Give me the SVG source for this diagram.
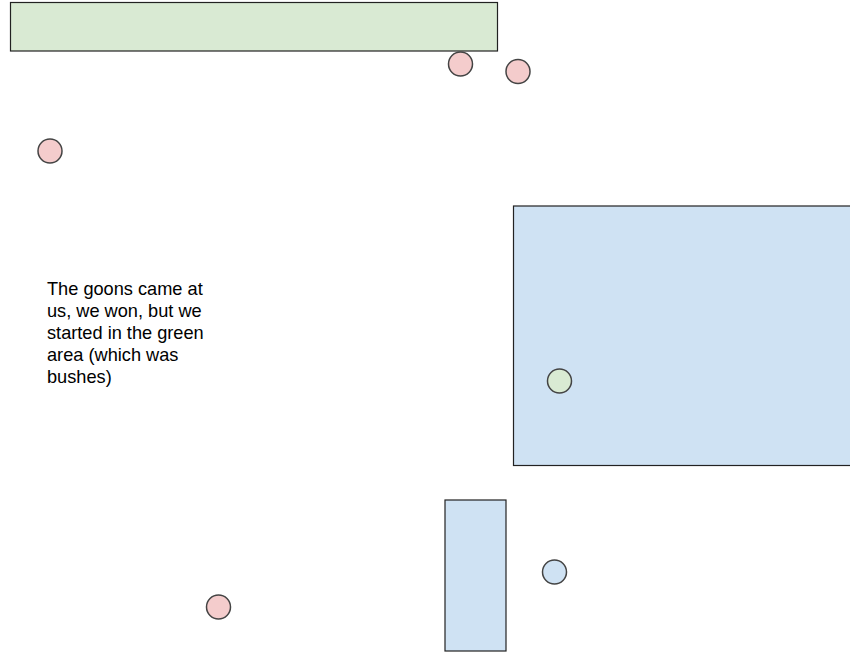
<svg xmlns="http://www.w3.org/2000/svg" width="850" height="652" viewBox="0 0 850 652">
<style>
.area{stroke:#222;stroke-width:1.2}
.green{fill:#d9ead3}
.blue{fill:#cfe2f3}
.pink{fill:#f4cccc}
.dot{stroke:#444;stroke-width:1.5}
.label{font-family:"Liberation Sans",Arial,sans-serif;font-size:18.2px;fill:#000}
</style>
<rect width="850" height="652" fill="#fff"/>
<g id="bushes"><rect class="area green" x="10.5" y="2.5" width="487" height="48.5"/></g>
<g id="big-blue"><rect class="area blue" x="513.5" y="206" width="340" height="259.5"/></g>
<g id="small-blue"><rect class="area blue" x="445" y="500" width="61" height="151"/></g>
<g id="goon1"><circle class="dot pink" cx="460.5" cy="64" r="12"/></g>
<g id="goon2"><circle class="dot pink" cx="518" cy="71.5" r="12"/></g>
<g id="goon3"><circle class="dot pink" cx="50" cy="151" r="12"/></g>
<g id="goon4"><circle class="dot pink" cx="218.5" cy="607" r="12"/></g>
<g id="green-dot"><circle class="dot green" cx="559.5" cy="381" r="12"/></g>
<g id="blue-dot"><circle class="dot blue" cx="554.5" cy="572" r="12"/></g>
<g id="note">
<text class="label" x="47" y="295">The goons came at</text>
<text class="label" x="47" y="317">us, we won, but we</text>
<text class="label" x="47" y="339">started in the green</text>
<text class="label" x="47" y="361">area (which was</text>
<text class="label" x="47" y="383">bushes)</text>
</g>
<g id="connectors"></g>
</svg>
